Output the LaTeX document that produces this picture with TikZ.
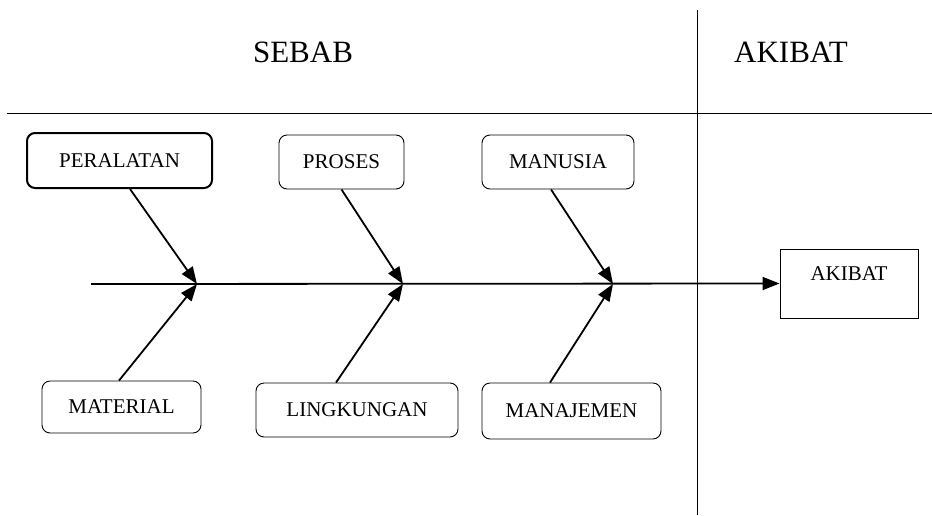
\documentclass[tikz,border=0pt]{standalone}
\usepackage{fontspec}
\setmainfont{Liberation Serif}
\usetikzlibrary{arrows.meta}
\begin{document}
\begin{tikzpicture}[x=1pt,y=-1pt,
  cause/.style={draw,rounded corners=8pt,line width=0.9pt,inner sep=0pt,
    font=\fontsize{21}{24}\selectfont},
  rule/.style={line width=0.8pt},
  bone/.style={line width=1.8pt,-{Triangle[length=17pt,width=13pt]}},
  head/.style={font=\fontsize{31}{36}\selectfont}]
\useasboundingbox[fill=white] (0,0) rectangle (932,515);
% dividers
\draw[rule] (7,113) -- (932,113);
\draw[rule] (697,10) -- (697,515);
% headers
\node[head] (sebab) at (303,52) {SEBAB};
\node[head] (akibath) at (791,52) {AKIBAT};
% cause boxes
\node[cause,line width=2pt,minimum width=185pt,minimum height=55pt] (peralatan) at (119.5,160.5) {PERALATAN};
\node[cause,minimum width=125pt,minimum height=54pt] (proses) at (341.5,162) {PROSES};
\node[cause,minimum width=152pt,minimum height=54pt] (manusia) at (558,162) {MANUSIA};
\node[cause,minimum width=159pt,minimum height=52pt] (material) at (121.5,407) {MATERIAL};
\node[cause,minimum width=202pt,minimum height=54pt] (lingkungan) at (357,410) {LINGKUNGAN};
\node[cause,minimum width=179pt,minimum height=56pt] (manajemen) at (571.5,411) {MANAJEMEN};
% effect box
\node[draw,line width=0.9pt,minimum width=138pt,inner ysep=0pt,text height=31pt,text depth=38pt,
  font=\fontsize{21}{24}\selectfont] (akibat) at (849,283.5) {AKIBAT};
% spine
\coordinate (tail) at (91,284);
\coordinate (j1) at (197,284);
\coordinate (j2) at (403,284);
\coordinate (j3) at (613,284);
\draw[bone] (tail) -- (akibat.west);
% bones
\draw[bone] ([xshift=10.5pt]peralatan.south) -- (j1);
\draw[bone] (proses.south) -- (j2);
\draw[bone] ([xshift=-7pt]manusia.south) -- (j3);
\draw[bone] ([xshift=-2.5pt]material.north) -- (j1);
\draw[bone] ([xshift=-21pt]lingkungan.north) -- (j2);
\draw[bone] ([xshift=-21.5pt]manajemen.north) -- (j3);
\end{tikzpicture}
\end{document}
